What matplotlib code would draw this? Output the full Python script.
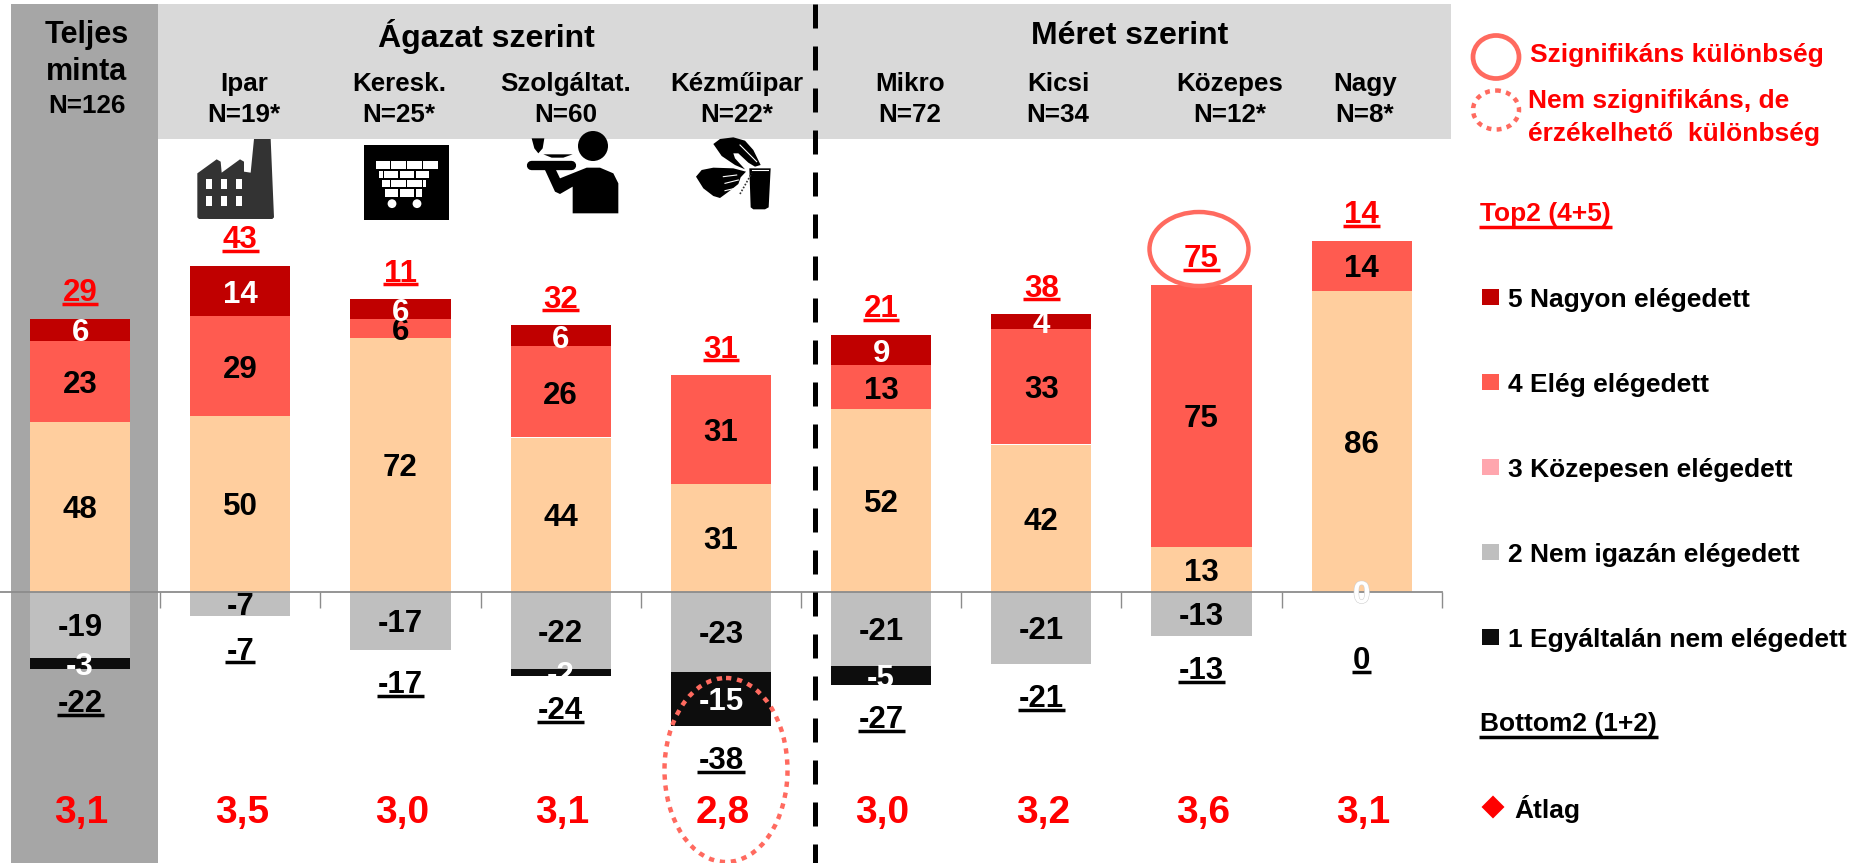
import numpy as np
import matplotlib
matplotlib.use('Agg')
import matplotlib.pyplot as plt
import matplotlib.patheffects as pe
from matplotlib.patches import Ellipse, Polygon, Rectangle, Circle

plt.rcParams['font.family'] = ['Liberation Sans', 'DejaVu Sans']
plt.rcParams['font.weight'] = 'bold'

# dados
cats = ['Teljes\nminta', 'Ipar', 'Keresk.', 'Szolgáltat.', 'Kézműipar', 'Mikro', 'Kicsi', 'Közepes', 'Nagy']
ns = ['N=126', 'N=19*', 'N=25*', 'N=60', 'N=22*', 'N=72', 'N=34', 'N=12*', 'N=8*']
v5 = [6.3, 14.3, 5.6, 6.0, 0, 8.8, 4.2, 0, 0]
v4 = [23.2, 28.6, 5.6, 26.0, 31.0, 12.6, 33.0, 75.0, 14.3]
v3 = [48.4, 50.1, 72.3, 44.0, 30.8, 52.0, 42.0, 12.7, 85.9]
v2 = [-19.0, -7.0, -16.6, -22.0, -23.0, -21.3, -20.7, -12.6, 0]
v1 = [-3.0, 0, 0, -2.0, -15.4, -5.4, 0, 0, 0]
top2 = [29, 43, 11, 32, 31, 21, 38, 75, 14]
bottom2 = [-22, -7, -17, -24, -38, -27, -21, -13, 0]
means = [3.1, 3.5, 3.0, 3.1, 2.8, 3.0, 3.2, 3.6, 3.1]

c5 = '#C00000'
c4 = '#FF5B50'
c3 = '#FFCE9E'
c2 = '#BFBFBF'
c1 = '#0D0D0D'
c_pink = '#FFA6AE'
c_ring = '#FF6A5F'

W, H = 1852, 863
fig = plt.figure(figsize=(W / 100, H / 100), dpi=100, facecolor='white')

# fundo em pixels
bg = fig.add_axes([0, 0, 1, 1], zorder=0)
bg.set_xlim(0, W)
bg.set_ylim(H, 0)
bg.axis('off')
bg.add_patch(Rectangle((11, 4), 146.5, 859, color='#A6A6A6', lw=0))
bg.add_patch(Rectangle((157.5, 4), 1293.5, 135, color='#D9D9D9', lw=0))

# barras
ax = fig.add_axes([0, 0, 1441.8 / W, 1], zorder=1)
ax.patch.set_alpha(0)
ax.set_xlim(-0.5, 8.5)
ax.set_ylim(-(H - 591.5) / 3.5, 591.5 / 3.5)
x = np.arange(len(cats))
bw = 0.625
ax.bar(x, v3, bw, color=c3)
ax.bar(x, v4, bw, bottom=v3, color=c4)
ax.bar(x, v5, bw, bottom=np.array(v3) + np.array(v4), color=c5)
ax.bar(x, v2, bw, color=c2)
ax.bar(x, v1, bw, bottom=v2, color=c1)
for s in ['top', 'left', 'right']:
    ax.spines[s].set_visible(False)
ax.spines['bottom'].set_position(('data', 0))
ax.spines['bottom'].set_color('#8C8C8C')
ax.spines['bottom'].set_linewidth(1.3)
ax.set_yticks([])
ax.set_xticks(np.arange(0.5, 9))
ax.tick_params(axis='x', direction='out', length=11.5, width=1, color='#8C8C8C', labelbottom=False)

# rótulos dentro das barras
fs = 22.5
dn = -3.5 * 0.72
base = np.zeros(len(cats))
for vals, col in [(v3, 'black'), (v4, 'black'), (v5, 'white')]:
    for i, v in enumerate(vals):
        if v != 0:
            ax.annotate(f'{v:.0f}', (i, base[i] + v / 2), xytext=(0, dn), textcoords='offset points',
                        ha='center', va='center', fontsize=fs, color=col)
    base += np.array(vals)
pos_top = base.copy()
base = np.zeros(len(cats))
for vals, col in [(v2, 'black'), (v1, 'white')]:
    for i, v in enumerate(vals):
        if v != 0:
            ax.annotate(f'{v:.0f}', (i, base[i] + v / 2), xytext=(0, dn), textcoords='offset points',
                        ha='center', va='center', fontsize=fs, color=col)
    base += np.array(vals)
pos_bot = base.copy()
ax.annotate('0', (8, 0), xytext=(0, dn), textcoords='offset points', ha='center', va='center',
            fontsize=fs, color='white', path_effects=[pe.withStroke(linewidth=0.8, foreground='#D0D0D0')])

# primeiro plano em pixels
fg = fig.add_axes([0, 0, 1, 1], zorder=2)
fg.patch.set_alpha(0)
fg.set_xlim(0, W)
fg.set_ylim(H, 0)
fg.axis('off')

renderer = fig.canvas.get_renderer()


def underline(t, color, below=10.5):
    bb = t.get_window_extent(renderer)
    yc = H - (bb.y0 + bb.y1) / 2 + below
    fg.plot([bb.x0 - 1, bb.x1 + 1], [yc, yc], color=color, lw=2.5, solid_capstyle='butt')


# Top2 / Bottom2 / médias
for i in range(len(cats)):
    t = ax.annotate(str(top2[i]), (i, pos_top[i]), xytext=(0, 25.5 * 0.72), textcoords='offset points',
                    ha='center', va='center', fontsize=fs, color='#FF0000')
    underline(t, '#FF0000')
    off = 35.5 if bottom2[i] != 0 else 69.5
    t = ax.annotate(str(bottom2[i]), (i, pos_bot[i]), xytext=(0, -off * 0.72), textcoords='offset points',
                    ha='center', va='center', fontsize=fs, color='black')
    underline(t, 'black')
    ax.annotate(f'{means[i]:.1f}'.replace('.', ','), (i, 0), xytext=(1, -221.5 * 0.72), textcoords='offset points',
                ha='center', va='center', fontsize=28, color='#FF0000')

# cabeçalho
cx = [87, 244, 399, 566, 737, 910, 1058, 1230, 1365]
fg.text(87, 35, 'Teljes', ha='center', va='center', fontsize=22, color='black')
fg.text(87, 72, 'minta', ha='center', va='center', fontsize=22, color='black')
fg.text(87, 106, ns[0], ha='center', va='center', fontsize=18.7, color='black')
for i in range(1, 9):
    fg.text(cx[i], 84, cats[i], ha='center', va='center', fontsize=18.7, color='black')
    fg.text(cx[i], 115, ns[i], ha='center', va='center', fontsize=18.7, color='black')
fg.text(486, 36, 'Ágazat szerint', ha='center', va='center', fontsize=23, color='black')
fg.text(1130, 36, 'Méret szerint', ha='center', va='center', fontsize=23, color='black')

# linha tracejada
fg.plot([815, 815], [4, 863], color='black', lw=3.6, linestyle=(0, (4.8, 3.6)), dash_capstyle='butt')

# círculos
fg.add_patch(Ellipse((1199, 249), 99, 74, fill=False, ec=c_ring, lw=3.2))
fg.add_patch(Ellipse((726, 770), 123, 184, fill=False, ec=c_ring, lw=3.2, linestyle=(0, (1.2, 1.3))))
fg.add_patch(Ellipse((1496, 57), 46, 43, fill=False, ec=c_ring, lw=3.4))
fg.add_patch(Ellipse((1496, 110), 46, 39, fill=False, ec=c_ring, lw=3.2, linestyle=(0, (1.1, 1.2))))

# legenda
red = '#FF0000'
fg.text(1530, 55, 'Szignifikáns különbség', va='center', fontsize=19, color=red)
fg.text(1528, 101, 'Nem szignifikáns, de', va='center', fontsize=19, color=red)
fg.text(1528, 134, 'érzékelhető  különbség', va='center', fontsize=19, color=red)
t = fg.text(1480, 214, 'Top2 (4+5)', va='center', fontsize=19, color=red)
underline(t, red, below=13)
leg_y = [297, 382, 467, 552, 637]
leg_c = [c5, c4, c_pink, c2, c1]
leg_t = ['5 Nagyon elégedett', '4 Elég elégedett', '3 Közepesen elégedett', '2 Nem igazán elégedett',
         '1 Egyáltalán nem elégedett']
for yy, cc, tt in zip(leg_y, leg_c, leg_t):
    fg.add_patch(Rectangle((1482, yy - 8.3), 16.6, 16.6, color=cc, lw=0))
    fg.text(1508, yy + 2.5, tt, va='center', fontsize=19, color='black')
t = fg.text(1480, 724, 'Bottom2 (1+2)', va='center', fontsize=19, color='black')
underline(t, 'black', below=13)
fg.add_patch(Polygon([(1493, 795.5), (1504.5, 807), (1493, 818.5), (1481.5, 807)], color=red, lw=0))
fg.text(1514, 809, 'Átlag', va='center', fontsize=19, color='black')


# ícones: coordenadas dos recortes (escala 3x)
def pts(lst, ox, oy):
    return [(ox + a / 3, oy + b / 3) for a, b in lst]


# fábrica
ox, oy = 180, 130
fabrica = [(52, 262), (52, 130), (110, 88), (122, 95), (125, 128), (180, 88), (192, 95), (192, 125), (212, 128),
           (222, 27), (272, 27), (282, 262), (277, 267), (57, 267)]
fg.add_patch(Polygon(pts(fabrica, ox, oy), color='#333333', lw=0))
for a in [78, 123, 167]:
    for b in [147, 197]:
        fg.add_patch(Rectangle((ox + a / 3, oy + b / 3), 6.3, 10, color='white', lw=0))

# carrinho
fg.add_patch(Rectangle((364, 145), 85, 75, color='black', lw=0))
tijolos = [(92, 116, [(587, 630), (634, 677), (681, 725), (729, 773)]),
           (122, 145, [(597, 608), (612, 655), (660, 703), (708, 748)]),
           (149, 172, [(606, 630), (634, 677), (682, 725), (729, 738)]),
           (177, 200, [(615, 655), (660, 703), (708, 725)])]
for y0, y1, xs in tijolos:
    for x0, x1 in xs:
        fg.add_patch(Rectangle((ox + x0 / 3, oy + y0 / 3), (x1 - x0) / 3, (y1 - y0) / 3, color='white', lw=0))
fg.add_patch(Circle((ox + 636 / 3, oy + 221 / 3), 4.4, color='white', lw=0))
fg.add_patch(Circle((ox + 711 / 3, oy + 221 / 3), 4.4, color='white', lw=0))

# garçom
ox, oy = 500, 120
fg.add_patch(Circle((ox + 279 / 3, oy + 78 / 3), 15, color='black', lw=0))
fg.add_patch(Polygon(pts([(95, 55), (133, 55), (128, 85), (115, 100), (103, 85)], ox, oy), color='black', lw=0))
fg.add_patch(Polygon(pts([(130, 103), (218, 103), (190, 113), (155, 113)], ox, oy), color='black', lw=0))
fg.plot([ox + 92 / 3, ox + 212 / 3], [oy + 136 / 3, oy + 136 / 3], color='black', lw=6.7, solid_capstyle='round')
corpo = [(218, 280), (355, 280), (355, 190), (340, 160), (300, 143), (260, 143), (180, 175), (168, 150), (135, 150),
         (165, 215), (180, 222), (218, 200)]
fg.add_patch(Polygon(pts(corpo, ox, oy), color='black', lw=0))

# mãos
mao1 = [(640, 72), (660, 57), (700, 52), (735, 62), (760, 90), (782, 135), (765, 140), (745, 128), (715, 100),
        (700, 100), (705, 115), (735, 148), (705, 135), (665, 108)]
mao2 = [(588, 170), (605, 150), (640, 143), (700, 145), (738, 155), (722, 172), (715, 192), (690, 212), (660, 234),
        (640, 228), (610, 205)]
pote = [(748, 145), (812, 145), (806, 262), (795, 268), (760, 268), (752, 262)]
for p in [mao1, mao2, pote]:
    fg.add_patch(Polygon(pts(p, ox, oy), color='black', lw=0))
for a0, b0, a1, b1 in [(670, 170, 710, 165), (675, 190, 715, 180), (675, 212, 705, 205), (720, 75, 770, 125),
                       (755, 150, 805, 150)]:
    fg.plot([ox + a0 / 3, ox + a1 / 3], [oy + b0 / 3, oy + b1 / 3], color='white', lw=0.8)
fg.plot([ox + 720 / 3, ox + 755 / 3], [oy + 222 / 3, oy + 160 / 3], color='#333333', lw=1.2, linestyle=(0, (1, 1)))

plt.savefig('out.png', dpi=100)
